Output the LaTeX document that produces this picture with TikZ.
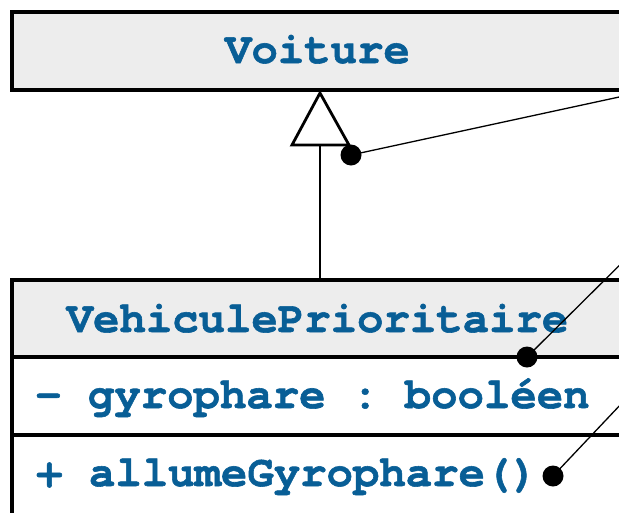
\documentclass[tikz,border=0pt]{standalone}
\usepackage{fontspec}
\setmonofont{texgyrecursor}[Extension=.otf, UprightFont=*-regular, BoldFont=*-bold, BoldFeatures={FakeBold=1.3}]
\definecolor{umlblue}{RGB}{8,94,150}
\definecolor{headgray}{RGB}{237,237,237}
\begin{document}
\begin{tikzpicture}[x=1pt,y=-1pt,
  boxpart/.style={draw=black, line width=4pt, anchor=north west, inner sep=0pt, outer sep=0pt},
  headpart/.style={boxpart, fill=headgray},
  umltext/.style={font=\ttfamily\bfseries\fontsize{44}{44}\selectfont, text=umlblue, inner sep=0pt},
  blob/.style={circle, fill=black, inner sep=0pt, minimum size=21pt},
  thinline/.style={line width=1.3pt}]
\useasboundingbox (0,0) rectangle (619,512);
\clip (0,0) rectangle (619,512);
\fill[white] (0,0) rectangle (619,512);
% Voiture
\node[headpart, minimum width=611pt, minimum height=78pt] (voiture) at (12,12) {};
\node[umltext, anchor=base] (voituretxt) at (317.5,63) {Voiture};
% VehiculePrioritaire
\node[headpart, minimum width=611pt, minimum height=77pt] (vphead) at (12,280) {};
\node[boxpart, fill=white, minimum width=611pt, minimum height=78pt] (vpattr) at (12,357) {};
\node[boxpart, fill=white, minimum width=611pt, minimum height=120pt] (vpmeth) at (12,435) {};
\node[umltext, anchor=base] (vptxt) at (317.5,332) {VehiculePrioritaire};
\node[umltext, anchor=base west] (attrtxt) at (35,408) {- gyrophare : booléen};
\node[umltext, anchor=base west] (methtxt) at (36,486) {+ allumeGyrophare()};
% generalization
\coordinate (apex) at (320,93);
\coordinate (tl) at (292,145);
\coordinate (tr) at (349,145);
\coordinate (tb) at (320,145);
\draw[thinline] (tb) -- (tb |- vphead.north);
\draw[line width=2.8pt, fill=white, line join=miter] (apex) -- (tl) -- (tr) -- cycle;
% annotation connectors
\node[blob] (d1) at (351,155) {};
\node[blob] (d2) at (527,357) {};
\node[blob] (d3) at (553,476) {};
\coordinate (e1) at (640,92.5);
\coordinate (e2) at (640,245);
\coordinate (e3) at (640,384);
\draw[thinline] (d1.center) -- (e1);
\draw[thinline] (d2.center) -- (e2);
\draw[thinline] (d3.center) -- (e3);
\end{tikzpicture}
\end{document}
